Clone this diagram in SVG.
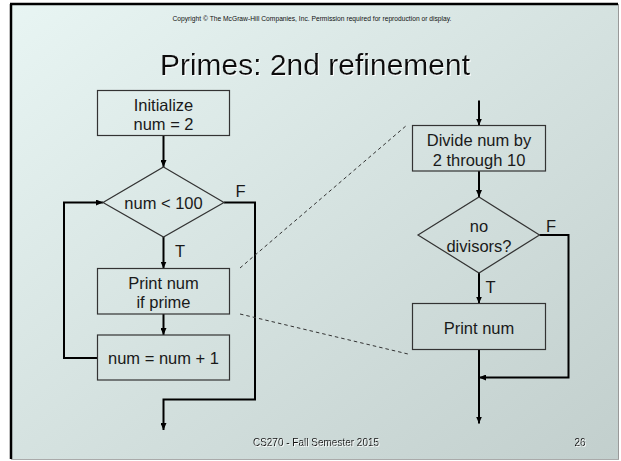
<svg xmlns="http://www.w3.org/2000/svg" width="621" height="461" viewBox="0 0 621 461">
<defs>
<linearGradient id="bg" x1="0" y1="0" x2="1" y2="1">
<stop offset="0" stop-color="#e8f5f3"/>
<stop offset="1" stop-color="#c2cfcd"/>
</linearGradient>
<marker id="ah" markerUnits="userSpaceOnUse" markerWidth="7" markerHeight="6" refX="7" refY="3" orient="auto">
<path d="M0,0 L7,3 L0,6 z" fill="#000"/>
</marker>
<filter id="glow" x="-5%" y="-20%" width="110%" height="140%">
<feDropShadow dx="1" dy="1" stdDeviation="0.6" flood-color="#ffffff" flood-opacity="0.9"/>
</filter>
</defs>
<style>
.box{fill:none;stroke:#333;stroke-width:1.2}
.lbl{font-family:"Liberation Sans",Arial,sans-serif;font-size:16.5px;fill:#1a1a1a;text-anchor:middle}
.con{fill:none;stroke:#000;stroke-width:2}
.dash{fill:none;stroke:#333;stroke-width:1;stroke-dasharray:3.5 3}
.small{font-family:"Liberation Sans",Arial,sans-serif;fill:#111;text-anchor:middle}
</style>
<rect x="0" y="0" width="621" height="461" fill="#ffffff"/>
<rect x="11" y="4" width="607" height="455" fill="url(#bg)"/>
<line x1="11" y1="4" x2="11" y2="459" stroke="#000" stroke-width="2.5"/>
<line x1="10" y1="4" x2="618" y2="4" stroke="#000" stroke-width="2.5"/>
<line x1="618.5" y1="4" x2="618.5" y2="459" stroke="#999" stroke-width="1"/>
<line x1="11" y1="459.5" x2="619" y2="459.5" stroke="#aaa" stroke-width="1"/>

<text class="small" x="312" y="21" font-size="6.7">Copyright © The McGraw-Hill Companies, Inc.  Permission required for reproduction or display.</text>
<text class="small" x="315" y="75" font-size="30" filter="url(#glow)">Primes: 2nd refinement</text>

<g id="connectors">
<line class="con" x1="163.5" y1="135.5" x2="163.5" y2="167" marker-end="url(#ah)"/>
<line class="con" x1="163.5" y1="237" x2="163.5" y2="268.5" marker-end="url(#ah)"/>
<line class="con" x1="163.5" y1="314" x2="163.5" y2="335" marker-end="url(#ah)"/>
<polyline class="con" points="97.5,358 64,358 64,202.5 103,202.5" marker-end="url(#ah)"/>
<polyline class="con" points="224,202.5 255,202.5 255,399.5 163.5,399.5 163.5,430" marker-end="url(#ah)"/>
<line class="con" x1="479" y1="100.5" x2="479" y2="125.5" marker-end="url(#ah)"/>
<line class="con" x1="479" y1="171" x2="479" y2="197" marker-end="url(#ah)"/>
<line class="con" x1="479" y1="273" x2="479" y2="303.5" marker-end="url(#ah)"/>
<line class="con" x1="479" y1="349.5" x2="479" y2="423.5" marker-end="url(#ah)"/>
<polyline class="con" points="539.5,235 568.5,235 568.5,377.5 479,377.5" marker-end="url(#ah)"/>
<line class="dash" x1="240" y1="268" x2="407" y2="125"/>
<line class="dash" x1="240" y1="314" x2="408" y2="354"/>
<text class="lbl" x="240.5" y="197">F</text>
<text class="lbl" x="180" y="257">T</text>
<text class="lbl" x="551" y="231.5">F</text>
<text class="lbl" x="490.5" y="292.5">T</text>
</g>

<g id="init">
<rect class="box" x="97.5" y="90.5" width="132" height="45"/>
<text class="lbl" x="163.5" y="111">Initialize</text>
<text class="lbl" x="163.5" y="130">num = 2</text>
</g>
<g id="cond">
<polygon class="box" points="163.5,167 224,202.5 163.5,237 103,202.5"/>
<text class="lbl" x="163.5" y="209">num &lt; 100</text>
</g>
<g id="printif">
<rect class="box" x="97.5" y="268.5" width="132" height="45.5"/>
<text class="lbl" x="163.5" y="288.5">Print num</text>
<text class="lbl" x="163.5" y="307.5">if prime</text>
</g>
<g id="incr">
<rect class="box" x="97.5" y="335" width="132" height="45"/>
<text class="lbl" x="163.5" y="364">num = num + 1</text>
</g>
<g id="divide">
<rect class="box" x="412.5" y="125.5" width="133" height="45.5"/>
<text class="lbl" x="479" y="145.5">Divide num by</text>
<text class="lbl" x="479" y="166">2 through 10</text>
</g>
<g id="nodiv">
<polygon class="box" points="479,197 539.5,235 479,273 418,235"/>
<text class="lbl" x="479" y="231.5">no</text>
<text class="lbl" x="479" y="251.5">divisors?</text>
</g>
<g id="print">
<rect class="box" x="412.5" y="303.5" width="133" height="46"/>
<text class="lbl" x="479" y="334">Print num</text>
</g>

<text class="small" x="316" y="446" font-size="10" filter="url(#glow)">CS270 - Fall Semester 2015</text>
<text class="small" x="580" y="446" font-size="10" filter="url(#glow)">26</text>
</svg>
